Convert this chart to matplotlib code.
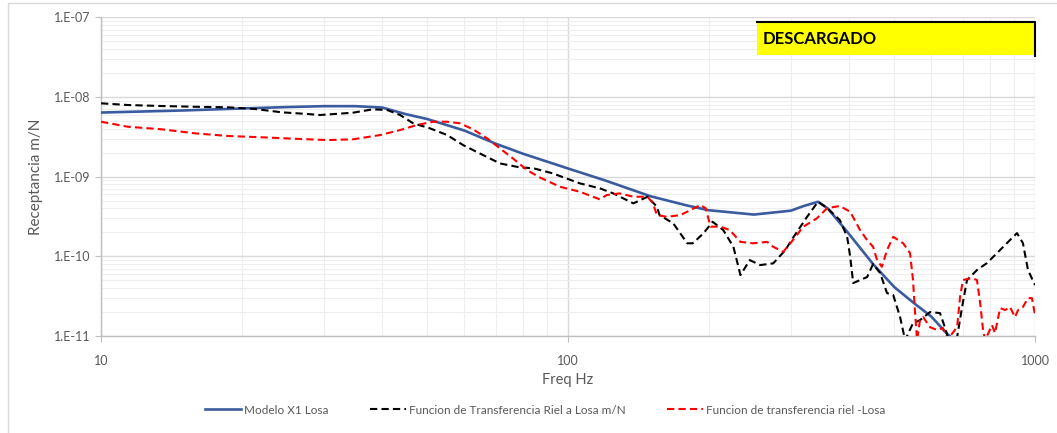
import matplotlib
matplotlib.use("Agg")
import matplotlib.pyplot as plt
from matplotlib.patches import Rectangle
from matplotlib.lines import Line2D
from matplotlib.ticker import LogLocator, NullFormatter

plt.rcParams['font.family'] = ['Lato', 'DejaVu Sans']

# Modelo X1 Losa
freq_modelo = [10, 15, 20, 25, 30, 35, 40, 45, 50, 60, 70, 80, 100, 120, 150,
               180, 200, 250, 300, 320, 343, 360, 400, 450, 500, 550, 600, 650, 700]
modelo = [6.4e-9, 6.8e-9, 7.2e-9, 7.5e-9, 7.7e-9, 7.7e-9, 7.4e-9, 6.1e-9, 5.3e-9,
          3.8e-9, 2.6e-9, 1.95e-9, 1.27e-9, 9.0e-10, 5.7e-10, 4.35e-10, 3.8e-10,
          3.35e-10, 3.75e-10, 4.3e-10, 4.85e-10, 4.0e-10, 1.9e-10, 8.0e-11, 4.1e-11,
          2.6e-11, 1.75e-11, 1.05e-11, 7.2e-12]

# Funcion de Transferencia Riel a Losa m/N
freq_riel_losa = [10.0, 11.4, 13.5, 15.9, 18.7, 21.4, 24.4, 27.8, 29.4, 34.6,
                  38.2, 41.0, 43.7, 46.6, 50.6, 55.1, 59.6, 65.8, 71.5, 78.9,
                  84.2, 92.9, 96.1, 106, 117, 125, 138, 148, 155, 157,
                  168, 180, 185, 195, 204, 215, 226, 234, 245, 258,
                  275, 292, 303, 325, 343, 359, 382, 396, 402, 408,
                  422, 437, 450, 466, 482, 497, 514, 527, 548, 567,
                  596, 626, 642, 658, 681, 698, 715, 751, 789, 829,
                  871, 915, 942, 966, 1000]
riel_losa = [8.36e-9, 7.96e-9, 7.73e-9, 7.57e-9, 7.45e-9, 7.09e-9, 6.44e-9, 6.13e-9, 5.96e-9, 6.37e-9,
             7.03e-9, 6.89e-9, 5.96e-9, 4.69e-9, 4.06e-9, 3.34e-9, 2.50e-9, 1.87e-9, 1.47e-9, 1.31e-9,
             1.28e-9, 1.10e-9, 1.02e-9, 8.26e-10, 7.15e-10, 6.18e-10, 4.63e-10, 5.61e-10, 4.20e-10, 3.30e-10,
             2.60e-10, 1.46e-10, 1.46e-10, 1.95e-10, 2.72e-10, 2.14e-10, 1.32e-10, 5.82e-11, 8.98e-11, 7.78e-11,
             8.17e-11, 1.20e-10, 1.70e-10, 3.14e-10, 4.85e-10, 4.04e-10, 2.86e-10, 1.76e-10, 9.89e-11, 4.62e-11,
             5.04e-11, 5.50e-11, 8.00e-11, 6.17e-11, 3.46e-11, 3.27e-11, 1.74e-11, 8.87e-12, 1.45e-11, 1.58e-11,
             2.00e-11, 1.94e-11, 1.26e-11, 7.69e-12, 9.69e-12, 2.31e-11, 5.04e-11, 6.73e-11, 8.24e-11, 1.10e-10,
             1.47e-10, 1.96e-10, 1.47e-10, 6.73e-11, 4.36e-11]

# Funcion de transferencia riel -Losa
freq_riel = [10.0, 11.4, 13.5, 15.9, 18.7, 22.1, 26.0, 30.6, 34.6, 39.6,
             43.7, 47.5, 51.4, 55.1, 58.7, 62.6, 67.1, 71.5, 76.2, 81.7,
             87.1, 96.1, 106, 117, 121, 129, 138, 148, 152, 155,
             163, 174, 183, 192, 197, 202, 212, 222, 234, 249,
             267, 275, 289, 303, 319, 341, 359, 382, 402, 422,
             437, 450, 459, 470, 482, 497, 522, 540, 548, 553,
             559, 567, 576, 596, 617, 635, 648, 681, 691, 701,
             715, 733, 751, 763, 774, 782, 809, 821, 842, 863,
             884, 906, 920, 942, 966, 985, 1000]
riel = [4.91e-9, 4.25e-9, 3.94e-9, 3.51e-9, 3.25e-9, 3.13e-9, 3.00e-9, 2.89e-9, 2.95e-9, 3.34e-9,
        3.86e-9, 4.47e-9, 4.91e-9, 4.91e-9, 4.69e-9, 3.94e-9, 3.04e-9, 2.27e-9, 1.70e-9, 1.21e-9,
        9.77e-10, 7.49e-10, 6.48e-10, 5.20e-10, 5.89e-10, 6.18e-10, 5.61e-10, 5.61e-10, 4.63e-10, 3.30e-10,
        3.14e-10, 3.30e-10, 3.82e-10, 4.42e-10, 4.04e-10, 2.36e-10, 2.36e-10, 2.14e-10, 1.52e-10, 1.46e-10,
        1.52e-10, 1.32e-10, 1.14e-10, 1.60e-10, 2.36e-10, 3.00e-10, 4.04e-10, 4.29e-10, 3.63e-10, 2.14e-10,
        1.60e-10, 1.32e-10, 8.98e-11, 7.40e-11, 1.20e-10, 1.76e-10, 1.46e-10, 1.10e-10, 5.04e-11, 2.12e-11,
        8.87e-12, 1.58e-11, 1.73e-11, 1.29e-11, 1.19e-11, 1.26e-11, 8.87e-12, 1.29e-11, 3.08e-11, 5.04e-11,
        5.19e-11, 5.34e-11, 5.04e-11, 2.59e-11, 1.19e-11, 8.87e-12, 1.37e-11, 1.09e-11, 2.24e-11, 2.12e-11,
        2.31e-11, 1.73e-11, 2.12e-11, 2.31e-11, 2.99e-11, 2.99e-11, 1.83e-11]

y_ticks = [1e-11, 1e-10, 1e-9, 1e-8, 1e-7]
y_labels = ['1.E-11', '1.E-10', '1.E-09', '1.E-08', '1.E-07']
x_ticks = [10, 100, 1000]
x_labels = ['10', '100', '1000']

grey_text = '#595959'

fig = plt.figure(figsize=(10.57, 4.33), dpi=100)
ax = fig.add_axes([0.0956, 0.224, 0.8836, 0.7356])

ax.plot(freq_modelo, modelo, color='#3A5BA0', lw=1.9, label='Modelo X1 Losa', zorder=3)
ax.plot(freq_riel_losa, riel_losa, color='black', lw=1.5, dashes=(3.5, 2),
        label='Funcion de Transferencia Riel a Losa m/N', zorder=4)
ax.plot(freq_riel, riel, color='#FF0000', lw=1.5, dashes=(3.5, 2),
        label='Funcion de transferencia riel -Losa', zorder=5)

ax.set_xscale('log')
ax.set_yscale('log')
ax.set_xlim(10, 1000)
ax.set_ylim(1e-11, 1e-7)

ax.set_xticks(x_ticks)
ax.set_xticklabels(x_labels)
ax.set_yticks(y_ticks)
ax.set_yticklabels(y_labels)
ax.xaxis.set_minor_locator(LogLocator(base=10, subs=range(2, 10)))
ax.yaxis.set_minor_locator(LogLocator(base=10, subs=range(2, 10)))
ax.xaxis.set_minor_formatter(NullFormatter())
ax.yaxis.set_minor_formatter(NullFormatter())

ax.grid(True, which='major', color='#d9d9d9', lw=1.0, zorder=0)
ax.grid(True, which='minor', color='#eeeeee', lw=0.8, zorder=0)
ax.set_axisbelow(True)

for side in ['top', 'right']:
    ax.spines[side].set_visible(False)
for side in ['left', 'bottom']:
    ax.spines[side].set_color('#bfbfbf')
    ax.spines[side].set_linewidth(1.0)

ax.tick_params(which='major', length=4, color='#bfbfbf', labelcolor=grey_text, labelsize=9)
ax.tick_params(which='minor', length=0)
ax.tick_params(axis='x', pad=10)

ax.set_xlabel('Freq Hz', fontsize=10.5, color=grey_text, labelpad=4)
ax.set_ylabel('Receptancia m/N', fontsize=11, color=grey_text, labelpad=8)

# yellow status box in the top right corner
ax.add_patch(Rectangle((0.7024, 0.882), 0.2976, 0.104, transform=ax.transAxes,
                       facecolor='#FFFF00', edgecolor='none', zorder=6, clip_on=False))
ax.add_line(Line2D([0.7024, 1.0, 1.0], [0.986, 0.986, 0.879], transform=ax.transAxes,
                   color='black', lw=1.5, zorder=7, clip_on=False))
ax.text(0.708, 0.934, 'DESCARGADO', transform=ax.transAxes, fontsize=12,
        fontweight='bold', va='center', ha='left', color='black', zorder=8)

# light border around the chart area
fig.add_artist(Rectangle((8 / 1057, -0.1), 1.2, 0.1 + 430 / 433, transform=fig.transFigure,
                         fill=False, edgecolor='#d9d9d9', lw=1.0))

fig.legend(loc='center', bbox_to_anchor=(0.516, 0.053), ncol=3, frameon=False,
           fontsize=8.5, handlelength=3.0, columnspacing=3.5, handletextpad=0.3,
           labelcolor=grey_text)

fig.savefig('out.png', dpi=100)
